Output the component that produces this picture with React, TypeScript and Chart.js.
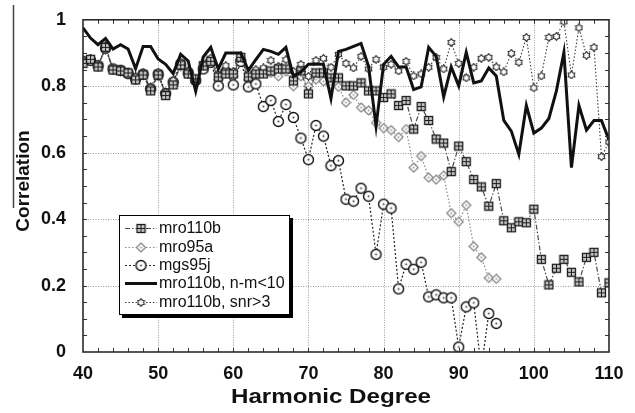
import React, { useEffect, useRef } from "react";
import { Chart, registerables } from "chart.js";
Chart.register(...registerables);

const degrees = [40, 41, 42, 43, 44, 45, 46, 47, 48, 49, 50, 51, 52, 53, 54, 55, 56, 57, 58, 59, 60, 61, 62, 63, 64, 65, 66, 67, 68, 69, 70, 71, 72, 73, 74, 75, 76, 77, 78, 79, 80, 81, 82, 83, 84, 85, 86, 87, 88, 89, 90, 91, 92, 93, 94, 95, 96, 97, 98, 99, 100, 101, 102, 103, 104, 105, 106, 107, 108, 109, 110];

const mro110b = [0.869, 0.881, 0.858, 0.917, 0.849, 0.846, 0.840, 0.819, 0.834, 0.786,
  0.834, 0.772, 0.804, 0.864, 0.837, 0.822, 0.861, 0.875, 0.828, 0.837,
  0.837, 0.887, 0.828, 0.837, 0.837, 0.846, 0.852, 0.852, 0.816, 0.846,
  0.777, 0.840, 0.840, 0.825, 0.825, 0.801, 0.801, 0.810, 0.786, 0.786,
  0.766, 0.777, 0.742, 0.757, 0.671, 0.739, 0.697, 0.641, 0.629, 0.543,
  0.620, 0.573, 0.519, 0.497, 0.439, 0.507, 0.395, 0.374, 0.392, 0.389,
  0.430, 0.279, 0.202, 0.252, 0.279, 0.240, 0.211, 0.285, 0.300, 0.178,
  0.208];

const mro95a = [0.870, 0.880, 0.860, 0.910, 0.850, 0.845, 0.840, 0.825, 0.835, 0.795,
  0.830, 0.780, 0.815, 0.860, 0.840, 0.812, 0.855, 0.880, 0.820, 0.850,
  0.830, 0.880, 0.820, 0.835, 0.840, 0.840, 0.830, 0.845, 0.800, 0.830,
  0.800, 0.820, 0.815, 0.805, 0.798, 0.751, 0.774, 0.736, 0.727, 0.690,
  0.674, 0.668, 0.647, 0.671, 0.555, 0.590, 0.525, 0.519, 0.531, 0.418,
  0.392, 0.442, 0.318, 0.285, 0.223, 0.220, null, null, null, null,
  null, null, null, null, null, null, null, null, null, null,
  null];

const mgs95j = [0.875, 0.878, 0.862, 0.915, 0.852, 0.848, 0.838, 0.822, 0.836, 0.792,
  0.836, 0.778, 0.812, 0.866, 0.840, 0.818, 0.852, 0.872, 0.801, 0.842,
  0.804, 0.875, 0.798, 0.807, 0.739, 0.757, 0.694, 0.745, 0.706, 0.644,
  0.579, 0.682, 0.650, 0.561, 0.576, 0.460, 0.454, 0.493, 0.469, 0.294,
  0.445, 0.433, 0.190, 0.264, 0.249, 0.270, 0.166, 0.172, 0.163, 0.163,
  0.015, 0.136, 0.148, -0.050, 0.116, 0.086, null, null, null, null,
  null, null, null, null, null, null, null, null, null, null,
  null];

const nm10 = [0.976, 0.945, 0.925, 0.944, 0.912, 0.925, 0.912, 0.853, 0.920, 0.920,
  0.882, 0.866, 0.838, 0.896, 0.876, 0.785, 0.888, 0.917, 0.852, 0.900,
  0.900, 0.900, 0.848, 0.880, 0.911, 0.905, 0.896, 0.917, 0.830, 0.843,
  0.866, 0.866, 0.866, 0.763, 0.905, 0.911, 0.920, 0.929, 0.860, 0.680,
  0.866, 0.890, 0.858, 0.858, 0.790, 0.798, 0.917, 0.890, 0.768, 0.858,
  0.801, 0.902, 0.810, 0.816, 0.855, 0.831, 0.697, 0.665, 0.595, 0.742,
  0.659, 0.674, 0.703, 0.786, 0.902, 0.555, 0.742, 0.668, 0.697, 0.697,
  0.638];

const snr3 = [0.878, 0.885, 0.862, 0.922, 0.852, 0.850, 0.842, 0.828, 0.840, 0.795,
  0.842, 0.780, 0.818, 0.872, 0.846, 0.812, 0.868, 0.885, 0.835, 0.862,
  0.845, 0.892, 0.840, 0.850, 0.855, 0.878, 0.860, 0.880, 0.845, 0.866,
  0.830, 0.878, 0.884, 0.857, 0.896, 0.869, 0.855, 0.890, 0.852, 0.881,
  0.857, 0.866, 0.846, 0.875, 0.831, 0.837, 0.857, 0.887, 0.852, 0.932,
  0.869, 0.825, 0.857, 0.884, 0.887, 0.858, 0.843, 0.899, 0.872, 0.947,
  0.795, 0.831, 0.947, 0.950, 0.994, 0.834, 0.976, 0.893, 0.917, 0.588,
  0.632];

const xTicks = [40, 50, 60, 70, 80, 90, 100, 110];
const yTicks = [0, 0.2, 0.4, 0.6, 0.8, 1];
const legendLabels = ["mro110b", "mro95a", "mgs95j", "mro110b, n-m<10", "mro110b, snr>3"];
const xTitle = "Harmonic Degree";
const yTitle = "Correlation";

const FONT = '"Liberation Sans", Arial, Helvetica, sans-serif';

function mk(w: number, draw: (g: CanvasRenderingContext2D, w: number) => void) {
  const c = document.createElement("canvas");
  c.width = w;
  c.height = w;
  const g = c.getContext("2d")!;
  draw(g, w);
  return c;
}

function makeMarkers() {
  const sq = mk(11, (g) => {
    g.fillStyle = "#c8c8c8";
    g.fillRect(1, 1, 9, 9);
    g.strokeStyle = "#1a1a1a";
    g.lineWidth = 1.3;
    g.strokeRect(1.5, 1.5, 8, 8);
    g.lineWidth = 1;
    g.beginPath();
    g.moveTo(5.5, 2);
    g.lineTo(5.5, 9);
    g.moveTo(2, 5.5);
    g.lineTo(9, 5.5);
    g.stroke();
  });
  const dia = mk(11, (g) => {
    g.fillStyle = "#fff";
    g.strokeStyle = "#808080";
    g.lineWidth = 1.2;
    g.beginPath();
    g.moveTo(5.5, 1);
    g.lineTo(10, 5.5);
    g.lineTo(5.5, 10);
    g.lineTo(1, 5.5);
    g.closePath();
    g.fill();
    g.stroke();
    g.fillStyle = "#999";
    g.beginPath();
    g.arc(5.5, 5.5, 1, 0, Math.PI * 2);
    g.fill();
  });
  const circ = mk(13, (g) => {
    g.fillStyle = "#fff";
    g.strokeStyle = "#111";
    g.lineWidth = 1.4;
    g.beginPath();
    g.arc(6.5, 6.5, 5, 0, Math.PI * 2);
    g.fill();
    g.stroke();
    g.fillStyle = "#444";
    g.beginPath();
    g.arc(6.5, 6.5, 1, 0, Math.PI * 2);
    g.fill();
  });
  const star = mk(9, (g) => {
    g.fillStyle = "#fff";
    g.strokeStyle = "#333";
    g.lineWidth = 1.2;
    g.beginPath();
    for (let i = 0; i < 12; i++) {
      const r = i % 2 === 0 ? 3.8 : 2.6;
      const a = (i * Math.PI) / 6 - Math.PI / 2;
      const x = 4.5 + r * Math.cos(a);
      const y = 4.5 + r * Math.sin(a);
      if (i === 0) g.moveTo(x, y);
      else g.lineTo(x, y);
    }
    g.closePath();
    g.fill();
    g.stroke();
  });
  return { sq, dia, circ, star };
}

export default function App() {
  const ref = useRef<HTMLCanvasElement>(null);

  useEffect(() => {
    document.body.style.margin = "0";
    const canvas = ref.current!;
    const m = makeMarkers();
    const pts = (arr: (number | null)[]) => degrees.map((d, i) => ({ x: d, y: arr[i] }));

    const series = [
      { label: legendLabels[0], data: mro110b, color: "#4a4a4a", width: 1.2, dash: [5, 2, 1.5, 2], marker: m.sq as any, order: 1 },
      { label: legendLabels[1], data: mro95a, color: "#8a8a8a", width: 1.2, dash: [1.5, 2], marker: m.dia as any, order: 4 },
      { label: legendLabels[2], data: mgs95j, color: "#222", width: 1.2, dash: [2, 2], marker: m.circ as any, order: 3 },
      { label: legendLabels[3], data: nm10, color: "#111", width: 3, dash: [] as number[], marker: null as any, order: 0 },
      { label: legendLabels[4], data: snr3, color: "#3a3a3a", width: 1.1, dash: [1.5, 2], marker: m.star as any, order: 2 },
    ];

    const framePlugin = {
      id: "frame",
      beforeDatasetsDraw(chart: any) {
        const { ctx, chartArea: a, scales } = chart;
        const xs = scales.x, ys = scales.y;
        ctx.save();
        ctx.strokeStyle = "#9a9a9a";
        ctx.lineWidth = 1;
        ctx.setLineDash([1, 1.5]);
        ctx.beginPath();
        for (const v of xTicks) {
          if (v === 40 || v === 110) continue;
          const x = Math.round(xs.getPixelForValue(v)) + 0.5;
          ctx.moveTo(x, a.top);
          ctx.lineTo(x, a.bottom);
        }
        for (const v of yTicks) {
          if (v === 0 || v === 1) continue;
          const y = Math.round(ys.getPixelForValue(v)) + 0.5;
          ctx.moveTo(a.left, y);
          ctx.lineTo(a.right, y);
        }
        ctx.stroke();
        ctx.restore();
      },
      afterDatasetsDraw(chart: any) {
        const { ctx, chartArea: a, scales } = chart;
        const xs = scales.x, ys = scales.y;
        ctx.save();
        ctx.strokeStyle = "#333";
        ctx.lineWidth = 1;
        ctx.beginPath();
        for (let v = 42; v < 110; v += 2) {
          const x = Math.round(xs.getPixelForValue(v)) + 0.5;
          ctx.moveTo(x, a.bottom);
          ctx.lineTo(x, a.bottom - 4);
          ctx.moveTo(x, a.top);
          ctx.lineTo(x, a.top + 4);
        }
        for (let k = 1; k < 20; k++) {
          const y = Math.round(ys.getPixelForValue(k * 0.05)) + 0.5;
          ctx.moveTo(a.left, y);
          ctx.lineTo(a.left + 4, y);
          ctx.moveTo(a.right, y);
          ctx.lineTo(a.right - 4, y);
        }
        ctx.stroke();
        ctx.lineWidth = 1.6;
        ctx.strokeStyle = "#2a2a2a";
        ctx.strokeRect(a.left, a.top, a.right - a.left, a.bottom - a.top);
        ctx.restore();
      },
      afterDraw(chart: any) {
        const ctx = chart.ctx as CanvasRenderingContext2D;
        ctx.save();
        const bx = 119, by = 215, bw = 171, bh = 100;
        ctx.fillStyle = "#000";
        ctx.fillRect(bx + 3, by + 3, bw, bh);
        ctx.fillStyle = "#fff";
        ctx.fillRect(bx, by, bw, bh);
        ctx.strokeStyle = "#000";
        ctx.lineWidth = 1;
        ctx.strokeRect(bx + 0.5, by + 0.5, bw - 1, bh - 1);
        const rows = [228, 247, 265, 283, 302];
        series.forEach((s, i) => {
          const y = rows[i];
          ctx.save();
          ctx.strokeStyle = s.color;
          ctx.lineWidth = s.width;
          ctx.setLineDash(s.dash);
          ctx.beginPath();
          ctx.moveTo(125, y + 0.5);
          ctx.lineTo(157, y + 0.5);
          ctx.stroke();
          ctx.restore();
          if (s.marker) {
            const mm = s.marker as HTMLCanvasElement;
            ctx.drawImage(mm, 141 - mm.width / 2, y + 0.5 - mm.height / 2);
          }
          ctx.fillStyle = "#111";
          ctx.font = `16px ${FONT}`;
          ctx.textAlign = "left";
          ctx.textBaseline = "middle";
          ctx.fillText(s.label, 159, y + 1);
        });
        ctx.font = `bold 20px ${FONT}`;
        ctx.fillStyle = "#111";
        ctx.textAlign = "center";
        ctx.textBaseline = "alphabetic";
        const w = ctx.measureText(xTitle).width;
        ctx.save();
        ctx.translate(331, 403);
        ctx.scale(200 / w, 1);
        ctx.fillText(xTitle, 0, 0);
        ctx.restore();
        ctx.save();
        ctx.translate(29, 181);
        ctx.rotate(-Math.PI / 2);
        ctx.font = `bold 19px ${FONT}`;
        ctx.textAlign = "center";
        ctx.textBaseline = "alphabetic";
        ctx.fillText(yTitle, 0, 0);
        ctx.restore();
        ctx.strokeStyle = "#444";
        ctx.lineWidth = 1.5;
        ctx.beginPath();
        ctx.moveTo(13.5, 5);
        ctx.lineTo(13.5, 208);
        ctx.stroke();
        ctx.restore();
      },
    };

    const chart = new Chart(canvas, {
      type: "line",
      data: {
        datasets: series.map((s) => ({
          label: s.label,
          data: pts(s.data) as any,
          borderColor: s.color,
          backgroundColor: s.color,
          borderWidth: s.width,
          borderDash: s.dash,
          pointStyle: s.marker || "circle",
          pointRadius: s.marker ? 5 : 0,
          pointHoverRadius: 0,
          tension: 0,
          fill: false,
          spanGaps: false,
          order: s.order,
        })),
      },
      options: {
        animation: false,
        responsive: false,
        events: [],
        layout: { padding: { top: 15, right: 26, left: 0, bottom: 0 } },
        plugins: { legend: { display: false }, tooltip: { enabled: false } },
        scales: {
          x: {
            type: "linear",
            min: 40,
            max: 110,
            afterBuildTicks: (s: any) => {
              s.ticks = xTicks.map((v) => ({ value: v }));
            },
            afterFit: (s: any) => {
              s.height = 61;
            },
            ticks: {
              font: { family: FONT, size: 18, weight: "bold" },
              color: "#111",
              padding: 3,
              maxRotation: 0,
              autoSkip: false,
              callback: (v: any) => String(v),
            },
            grid: { display: false },
            border: { display: false },
          },
          y: {
            type: "linear",
            min: 0,
            max: 1,
            afterBuildTicks: (s: any) => {
              s.ticks = yTicks.map((v) => ({ value: v }));
            },
            afterFit: (s: any) => {
              s.width = 83;
            },
            ticks: {
              font: { family: FONT, size: 18, weight: "bold" },
              color: "#111",
              padding: 9,
              autoSkip: false,
              callback: (v: any) => String(v),
            },
            grid: { display: false },
            border: { display: false },
          },
        },
      },
      plugins: [framePlugin],
    } as any);
    return () => chart.destroy();
  }, []);

  return <canvas ref={ref} width={635} height={413} style={{ display: "block" }} />;
}
